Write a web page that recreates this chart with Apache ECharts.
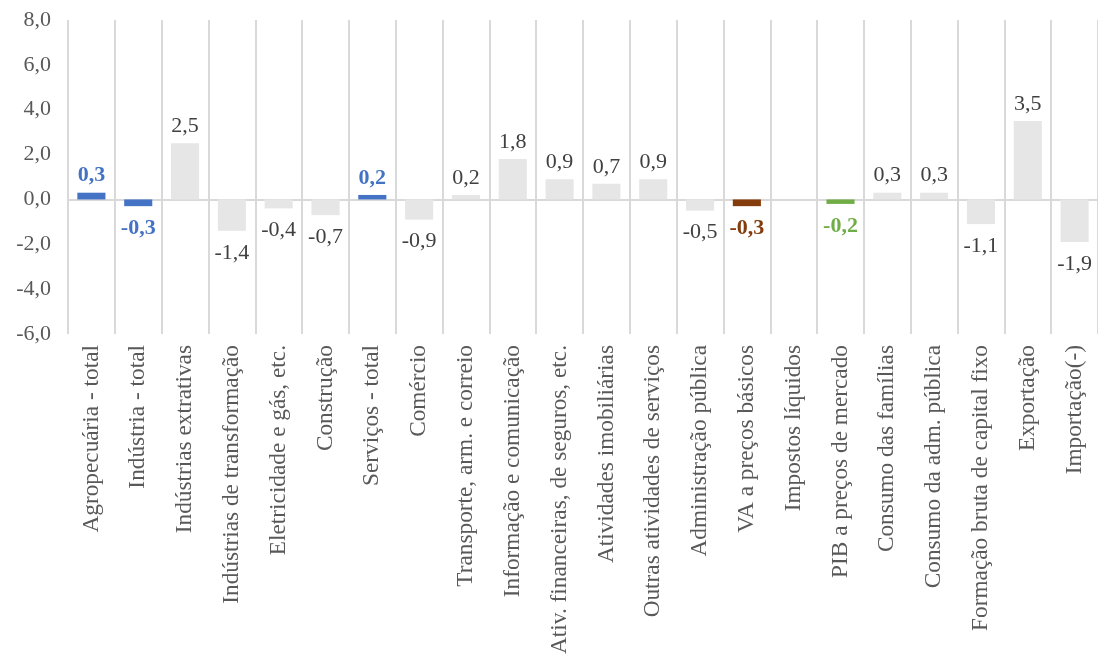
<!DOCTYPE html>
<html><head><meta charset="utf-8">
<script src="https://cdn.jsdelivr.net/npm/echarts@6/dist/echarts.min.js"></script>
<style>html,body{margin:0;padding:0;background:#fff}#c{width:1098px;height:660px}</style>
</head><body><div id="c"></div>
<script>
const categories = ["Agropecuária - total","Indústria - total","Indústrias extrativas","Indústrias de transformação","Eletricidade e gás, etc.","Construção","Serviços - total","Comércio","Transporte, arm. e correio","Informação e comunicação","Ativ. financeiras, de seguros, etc.","Atividades imobiliárias","Outras atividades de serviços","Administração pública","VA a preços básicos","Impostos líquidos","PIB a preços de mercado","Consumo das famílias","Consumo da adm. pública","Formação bruta de capital fixo","Exportação","Importação(-)"];
const values = [0.3,-0.3,2.5,-1.4,-0.4,-0.7,0.2,-0.9,0.2,1.8,0.9,0.7,0.9,-0.5,-0.3,0.0,-0.2,0.3,0.3,-1.1,3.5,-1.9];
const highlight = {0:"#4472c4",1:"#4472c4",6:"#4472c4",14:"#843c0c",16:"#70ad47"};
const hiddenLabel = [15];
const yTicks = [-6,-4,-2,0,2,4,6,8];

const FONT = "'Liberation Serif','Times New Roman',serif";
const data = values.map((v,i)=>{
  const col = highlight[i];
  return {
    value: v,
    itemStyle: {color: col || "#e7e6e6"},
    label: {
      show: hiddenLabel.indexOf(i) < 0,
      position: v < 0 ? "bottom" : "top",
      distance: v < 0 ? 11 : 6,
      color: col || "#404040",
      fontWeight: col ? "bold" : "normal"
    }
  };
});
const chart = echarts.init(document.getElementById('c'));
chart.setOption({
  animation:false,
  grid:{left:68,right:0,top:20,bottom:326,containLabel:false,outerBoundsMode:'none'},
  xAxis:{type:'category',data:categories,
    axisLine:{lineStyle:{color:'#d9d9d9',width:2}},
    axisTick:{show:false},
    splitLine:{show:true,lineStyle:{color:'#d9d9d9',width:2}},
    axisLabel:{rotate:90,interval:0,margin:11,fontFamily:FONT,fontSize:23.3,color:'#595959'}
  },
  yAxis:{type:'value',min:yTicks[0],max:yTicks[yTicks.length-1],interval:2,
    axisLine:{show:false},axisTick:{show:false},splitLine:{show:false},
    axisLabel:{margin:17,fontFamily:FONT,fontSize:22,color:'#595959',formatter:v=>v.toFixed(1).replace('.',',')}
  },
  series:[{type:'bar',data:data,barWidth:'60%',
    label:{fontFamily:FONT,fontSize:22,formatter:p=>p.value.toFixed(1).replace('.',',')}
  }]
});
</script></body></html>
